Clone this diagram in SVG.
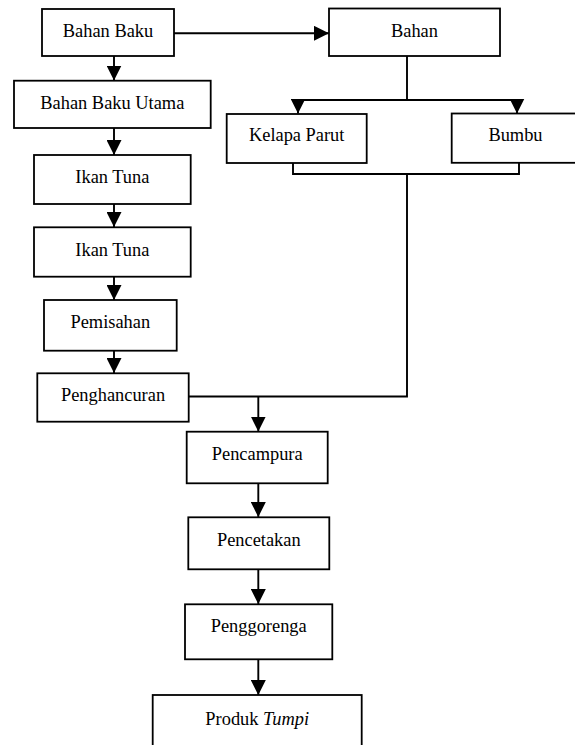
<svg xmlns="http://www.w3.org/2000/svg" width="575" height="745" viewBox="0 0 575 745">
<style>
.box{fill:#fff;stroke:#000;stroke-width:1.8}
.t{font-family:"Liberation Serif","Times New Roman",serif;font-size:18.4px;text-anchor:middle;fill:#000}
.ln{fill:none;stroke:#000;stroke-width:1.9}
.ar{fill:none;stroke:#000;stroke-width:1.9;marker-end:url(#ah)}
</style>
<defs>
<marker id="ah" markerUnits="userSpaceOnUse" markerWidth="15" markerHeight="15" refX="15" refY="7.5" orient="auto" viewBox="0 0 15 15">
<path d="M0,0 L15,7.5 L0,15 z" fill="#000"/>
</marker>
</defs>
<rect width="575" height="745" fill="#fff"/>
<g id="connectors">
<path class="ar" d="M114,56 V80.5"/>
<path class="ar" d="M114,128 V155"/>
<path class="ar" d="M114,204 V227"/>
<path class="ar" d="M114,277 V300"/>
<path class="ar" d="M114,351 V373"/>
<path class="ar" d="M174,33.3 H329"/>
<path class="ln" d="M407,56 V100"/>
<path class="ln" d="M297,100 H518"/>
<path class="ar" d="M298,100 V113.5"/>
<path class="ar" d="M517,100 V113.5"/>
<path class="ln" d="M293,163 V174 H519 V163"/>
<path class="ln" d="M407,174 V396.5 H189"/>
<path class="ar" d="M258.3,396.5 V431.5"/>
<path class="ar" d="M258.3,483.3 V517"/>
<path class="ar" d="M258.3,569.3 V604"/>
<path class="ar" d="M258.3,659.3 V695"/>
</g>
<g id="bahan-baku"><rect class="box" x="42" y="9" width="132" height="47"/><text class="t" x="108" y="37.3">Bahan Baku</text></g>
<g id="bahan"><rect class="box" x="329" y="8.5" width="171" height="47.5"/><text class="t" x="414.5" y="37">Bahan</text></g>
<g id="bahan-baku-utama"><rect class="box" x="14" y="80.7" width="196.7" height="47.3"/><text class="t" x="112.3" y="109.3">Bahan Baku Utama</text></g>
<g id="kelapa-parut"><rect class="box" x="226.7" y="114" width="140" height="49"/><text class="t" x="296.7" y="141.3">Kelapa Parut</text></g>
<g id="bumbu"><rect class="box" x="451.7" y="113.5" width="140" height="49.3"/><text class="t" x="515.5" y="141.3">Bumbu</text></g>
<g id="ikan-tuna-1"><rect class="box" x="34" y="155" width="156.7" height="49"/><text class="t" x="112.4" y="182.7">Ikan Tuna</text></g>
<g id="ikan-tuna-2"><rect class="box" x="34" y="227.3" width="156.7" height="49.4"/><text class="t" x="112.4" y="255.7">Ikan Tuna</text></g>
<g id="pemisahan"><rect class="box" x="44" y="300" width="132.7" height="50.7"/><text class="t" x="110.3" y="327.7">Pemisahan</text></g>
<g id="penghancuran"><rect class="box" x="37.3" y="373.3" width="151.4" height="48.4"/><text class="t" x="113" y="401">Penghancuran</text></g>
<g id="pencampura"><rect class="box" x="186.7" y="431.7" width="141" height="51.6"/><text class="t" x="257.2" y="460">Pencampura</text></g>
<g id="pencetakan"><rect class="box" x="188.3" y="517.3" width="141" height="52"/><text class="t" x="258.8" y="545.7">Pencetakan</text></g>
<g id="penggorenga"><rect class="box" x="185" y="604.3" width="147.3" height="55"/><text class="t" x="258.7" y="632.3">Penggorenga</text></g>
<g id="produk-tumpi"><rect class="box" x="152.7" y="695" width="209" height="70"/><text class="t" x="257.2" y="725">Produk <tspan font-style="italic">Tumpi</tspan></text></g>
</svg>
